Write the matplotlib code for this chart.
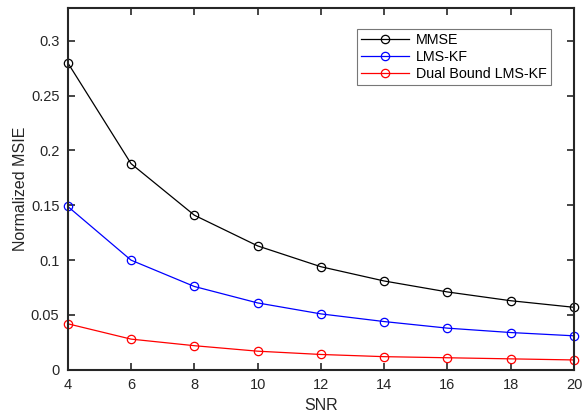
import matplotlib
matplotlib.use('Agg')
from matplotlib import pyplot as plt
import numpy as np

plt.rcParams['font.family'] = ['Liberation Sans', 'DejaVu Sans']

snr = [4, 6, 8, 10, 12, 14, 16, 18, 20]
mmse = [0.280, 0.188, 0.141, 0.113, 0.094, 0.081, 0.071, 0.063, 0.057]
lms_kf = [0.149, 0.100, 0.076, 0.061, 0.051, 0.044, 0.038, 0.034, 0.031]
dual_kf = [0.042, 0.028, 0.022, 0.017, 0.014, 0.012, 0.011, 0.010, 0.009]
labels = ['MMSE', 'LMS-KF', 'Dual Bound LMS-KF']

fig = plt.figure(figsize=(5.84, 4.16), dpi=100)
ax = fig.add_axes([0.116, 0.111, 0.867, 0.870])

for y, c, lab in zip([mmse, lms_kf, dual_kf], ['k', 'b', 'r'], labels):
    ax.plot(snr, y, color=c, lw=0.9, marker='o', markersize=6,
            markerfacecolor='none', markeredgecolor=c, markeredgewidth=0.9,
            label=lab, clip_on=False)

ax.set_xlim(4, 20)
ax.set_ylim(0, 0.33)
ax.set_xticks(np.arange(4, 21, 2))
ax.set_yticks([0, 0.05, 0.1, 0.15, 0.2, 0.25, 0.3])
ax.set_yticklabels(['0', '0.05', '0.1', '0.15', '0.2', '0.25', '0.3'])
ax.tick_params(direction='in', top=True, right=True, labelsize=10.5,
               length=5, width=1.2, colors='#262626', pad=6)
for s in ax.spines.values():
    s.set_linewidth(1.5)
    s.set_color('#262626')

ax.set_xlabel('SNR', fontsize=11.5, color='#262626', labelpad=4)
ax.set_ylabel('Normalized MSIE', fontsize=11.5, color='#262626', labelpad=2)

leg = ax.legend(loc='upper right', bbox_to_anchor=(0.968, 0.962), fontsize=10.3,
                frameon=True, fancybox=False, edgecolor='#555555',
                handlelength=3.3, borderpad=0.3, labelspacing=0.2,
                handletextpad=0.5)
leg.get_frame().set_linewidth(0.8)

fig.savefig('out.png', dpi=100)
